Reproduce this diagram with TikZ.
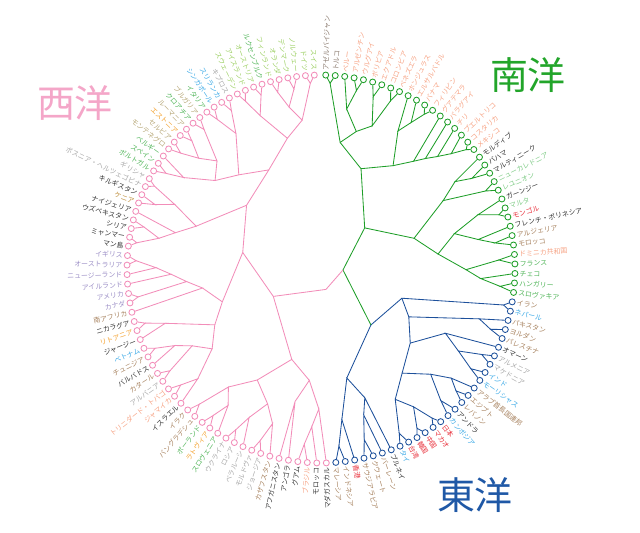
\documentclass[tikz,border=0pt]{standalone}
\usepackage{fontspec}
\newfontfamily\cjk{Noto Sans CJK JP}
\usepackage{tikz}
\usetikzlibrary{calc}
\definecolor{BrPink}{HTML}{F28DB9}
\definecolor{BrGreen}{HTML}{1E9E28}
\definecolor{BrBlue}{HTML}{1D509B}
\definecolor{TtPink}{HTML}{F4A6C8}
\definecolor{TtGreen}{HTML}{22A52A}
\definecolor{TtBlue}{HTML}{1F58A6}
\definecolor{cBlk}{HTML}{333333}
\definecolor{cGry}{HTML}{A8A8A8}
\definecolor{cBrn}{HTML}{A7825F}
\definecolor{cDbr}{HTML}{8A7A6E}
\definecolor{cSal}{HTML}{F6A283}
\definecolor{cRed}{HTML}{E8313C}
\definecolor{cLbl}{HTML}{3BA9E6}
\definecolor{cPur}{HTML}{9C8FC6}
\definecolor{cOrg}{HTML}{F3A12E}
\definecolor{cTan}{HTML}{B6A676}
\definecolor{cGrn}{HTML}{52B55A}
\definecolor{cLgr}{HTML}{9CCF63}
\definecolor{cMnt}{HTML}{7FCB86}
\definecolor{cOch}{HTML}{BE8E3C}
% join two children (#2,#3) into node #1 at radius #4
\newcommand\hjoin[5]{%
  \edef\hpa{\csname hp@#2\endcsname}\edef\hpb{\csname hp@#3\endcsname}%
  \pgfmathsetmacro\hpos{(\hpa+\hpb)/2}%
  \expandafter\xdef\csname hp@#1\endcsname{\hpos}%
  \coordinate (#1) at ({leafang(\hpos)}:#4);
  \draw[#5] (#2) -- (#1) -- (#3);}

\begin{document}
\begin{tikzpicture}[x=0.025cm, y=0.025cm,
  declare function={leafang(\x)=(\x<98.5) ? 88.6-2.81*\x : -186.8-2.62*(\x-98);}]
\tikzset{leaf/.style={circle, fill=white, inner sep=0pt, minimum size=0.15cm, line width=0.6pt},
  gleaf/.style={leaf, draw=BrGreen}, bleaf/.style={leaf, draw=BrBlue}, pleaf/.style={leaf, draw=BrPink},
  gln/.style={draw=BrGreen, line width=0.6pt}, bln/.style={draw=BrBlue, line width=0.6pt}, pln/.style={draw=BrPink, line width=0.6pt},
  lab/.style={font=\cjk\fontsize{4.9}{6}\selectfont, inner sep=0pt},
  title/.style={font=\cjk\fontsize{27}{30}\selectfont, inner sep=0pt}}
\useasboundingbox (-321,-264) rectangle (319,269);
% titles
\node[title, text=TtPink] (tw) at (-246,166) {西洋};
\node[title, text=TtGreen] (ts) at (207,194) {南洋};
\node[title, text=TtBlue] (te) at (154,-226) {東洋};
% leaves
\foreach \cname/\ccol [count=\i from 0] in {アゼルバイジャン/cDbr, トルコ/cDbr, ペルー/cSal, アルゼンチン/cSal, ウルグアイ/cSal, ボリビア/cSal, エクアドル/cSal, コロンビア/cSal, ベネズエラ/cSal, ホンジュラス/cSal, エルサルバドル/cSal, パナマ/cSal, フィリピン/cSal, グアテマラ/cSal, パラグアイ/cSal, チリ/cSal, プエルトリコ/cSal, コスタリカ/cSal, メキシコ/cSal, モルディブ/cBlk, バハマ/cBlk, マルティニーク/cBlk, ニューカレドニア/cMnt, レユニオン/cMnt, ガーンジー/cBlk, マルタ/cMnt, モンゴル/cRed, フレンチ・ポリネシア/cBlk, アルジェリア/cBrn, モロッコ/cBrn, ドミニカ共和国/cSal, フランス/cGrn, チェコ/cGrn, ハンガリー/cGrn, スロヴァキア/cGrn}
{
  \pgfmathsetmacro\a{leafang(\i)}
  \node[gleaf] (l\i) at (\a:194) {};
  \node[lab, text=\ccol, rotate=\a, anchor=west] (t\i) at (\a:198.5) {\cname};
  \expandafter\xdef\csname hp@l\i\endcsname{\i}
}
\foreach \cname/\ccol [count=\i from 35] in {イラン/cBrn, ネパール/cLbl, パキスタン/cBrn, ヨルダン/cBrn, パレスチナ/cBrn, オマーン/cBlk, アルメニア/cGry, マケドニア/cGry, インド/cLbl, モーリシャス/cLbl, アラブ首長国連邦/cBrn, エジプト/cBrn, レバノン/cBrn, アンドラ/cBlk, カンボジア/cLbl, 日本/cRed, マカオ/cRed, 中国/cRed, 韓国/cRed, 台湾/cRed, タイ/cLbl, ブルネイ/cBlk, バーレーン/cBrn, クウェート/cBrn, サウジアラビア/cBrn, 香港/cRed, インドネシア/cBrn, マレーシア/cBrn}
{
  \pgfmathsetmacro\a{leafang(\i)}
  \node[bleaf] (l\i) at (\a:194) {};
  \node[lab, text=\ccol, rotate=\a, anchor=west] (t\i) at (\a:198.5) {\cname};
  \expandafter\xdef\csname hp@l\i\endcsname{\i}
}
\foreach \cname/\ccol [count=\i from 63] in {マダガスカル/cBlk, モロッコ/cBlk, ブラジル/cSal, グアム/cBlk, アンゴラ/cBlk, アフガニスタン/cBlk, カザフスタン/cBrn, ジョージア/cGry, モルドヴァ/cGry, ベラルーシ/cGry, ロシア/cGry, ウクライナ/cGry, スロヴェニア/cGrn, ラトヴィア/cOrg, ポーランド/cGrn, バングラデシュ/cBrn, イラク/cBrn, イスラエル/cBlk, ジャマイカ/cSal, トリニダード・トバゴ/cSal, アルバニア/cGry, カタール/cBrn, バルバドス/cBlk, チュニジア/cBrn, ベトナム/cLbl, ジャージー/cBlk, リトアニア/cOrg, ニカラグア/cBlk, 南アフリカ/cBrn, カナダ/cPur, アメリカ/cPur, アイルランド/cPur, ニュージーランド/cPur, オーストラリア/cPur, イギリス/cPur, マン島/cBlk, ミャンマー/cBlk, シリア/cBlk, ウズベキスタン/cBlk, ナイジェリア/cBlk, ケニア/cOch, キルギスタン/cBlk, ボスニア・ヘルツェゴビナ/cGry, ギリシャ/cGry, ポルトガル/cGrn, スペイン/cGrn, ベルギー/cGrn, モンテネグロ/cTan, セルビア/cTan, エストニア/cOrg, ルーマニア/cTan, クロアチア/cGrn, ブルガリア/cTan, イタリア/cGrn, シンガポール/cLbl, スリランカ/cLbl, キプロス/cGry, スウェーデン/cLgr, アイスランド/cLgr, オーストリア/cLgr, ルクセンブルク/cGrn, フィンランド/cLgr, オランダ/cLgr, デンマーク/cLgr, ノルウェー/cLgr, ドイツ/cLgr, スイス/cLgr}
{
  \pgfmathsetmacro\a{leafang(\i)}
  \node[pleaf] (l\i) at (\a:194) {};
  \node[lab, text=\ccol, rotate=\a+180, anchor=east] (t\i) at (\a:198.5) {\cname};
  \expandafter\xdef\csname hp@l\i\endcsname{\i}
}
% green tree
\hjoin{g1}{l0}{l1}{186}{gln}
\hjoin{g2}{l3}{l4}{182}{gln}
\hjoin{g3}{l2}{g2}{162}{gln}
\hjoin{g4}{l5}{l6}{180}{gln}
\hjoin{g5}{l7}{l8}{182}{gln}
\hjoin{g6}{g4}{g5}{152}{gln}
\hjoin{g7}{g3}{g6}{142}{gln}
\hjoin{g8}{g1}{g7}{128}{gln}
\hjoin{g9}{l11}{l12}{186}{gln}
\hjoin{g10}{l10}{g9}{172}{gln}
\hjoin{g11}{l9}{g10}{158}{gln}
\hjoin{g12}{l17}{l18}{188}{gln}
\hjoin{g13}{l16}{g12}{174}{gln}
\hjoin{g14}{l15}{g13}{162}{gln}
\hjoin{g15}{l14}{g14}{152}{gln}
\hjoin{g16}{l13}{g15}{142}{gln}
\hjoin{g17}{g11}{g16}{126}{gln}
\hjoin{g18}{g8}{g17}{108}{gln}
\hjoin{g19}{l20}{l21}{176}{gln}
\hjoin{g20}{l19}{g19}{160}{gln}
\hjoin{g21}{l22}{l23}{182}{gln}
\hjoin{g22}{g20}{g21}{140}{gln}
\hjoin{g23}{l25}{l26}{186}{gln}
\hjoin{g24}{l24}{g23}{166}{gln}
\hjoin{g25}{l28}{l29}{176}{gln}
\hjoin{g26}{l27}{g25}{160}{gln}
\hjoin{g27}{g24}{g26}{138}{gln}
\hjoin{g28}{l30}{l31}{178}{gln}
\hjoin{g29}{l33}{l34}{180}{gln}
\hjoin{g30}{l32}{g29}{160}{gln}
\hjoin{g31}{g28}{g30}{145}{gln}
\hjoin{g32}{g27}{g31}{118}{gln}
\hjoin{g33}{g22}{g32}{98}{gln}
\hjoin{g34}{g18}{g33}{60}{gln}
% blue tree
\hjoin{b1}{l35}{l36}{186}{bln}
\hjoin{b2}{l38}{l39}{180}{bln}
\hjoin{b3}{l37}{b2}{166}{bln}
\hjoin{b4}{l41}{l42}{182}{bln}
\hjoin{b5}{l43}{l44}{180}{bln}
\hjoin{b6}{b4}{b5}{160}{bln}
\hjoin{b7}{l40}{b6}{140}{bln}
\hjoin{b8}{l46}{l47}{182}{bln}
\hjoin{b9}{l45}{b8}{170}{bln}
\hjoin{b10}{l48}{l49}{178}{bln}
\hjoin{b11}{b9}{b10}{152}{bln}
\hjoin{b12}{l50}{l51}{186}{bln}
\hjoin{b13}{l52}{l53}{186}{bln}
\hjoin{b14}{b12}{b13}{166}{bln}
\hjoin{b15}{l54}{l55}{182}{bln}
\hjoin{b16}{b14}{b15}{150}{bln}
\hjoin{b17}{b11}{b16}{132}{bln}
\hjoin{b18}{b7}{b17}{116}{bln}
\hjoin{b19}{b3}{b18}{100}{bln}
\hjoin{b20}{b1}{b19}{86}{bln}
\hjoin{b21}{l58}{l59}{176}{bln}
\hjoin{b22}{l57}{b21}{152}{bln}
\hjoin{b23}{l56}{b22}{136}{bln}
\hjoin{b24}{l61}{l62}{178}{bln}
\hjoin{b25}{l60}{b24}{152}{bln}
\hjoin{b26}{b23}{b25}{112}{bln}
\hjoin{b27}{b20}{b26}{75}{bln}
% pink tree
\hjoin{p1}{l65}{l66}{176}{pln}
\hjoin{p2}{l64}{p1}{158}{pln}
\hjoin{p3}{l63}{p2}{140}{pln}
\hjoin{p4}{l67}{l68}{135}{pln}
\hjoin{p5}{p3}{p4}{112}{pln}
\hjoin{p6}{l70}{l71}{182}{pln}
\hjoin{p7}{l69}{p6}{162}{pln}
\hjoin{p8}{l73}{l74}{182}{pln}
\hjoin{p9}{l72}{p8}{165}{pln}
\hjoin{p10}{p7}{p9}{145}{pln}
\hjoin{p11}{l76}{l77}{182}{pln}
\hjoin{p12}{l75}{p11}{165}{pln}
\hjoin{p13}{l78}{l79}{182}{pln}
\hjoin{p14}{p12}{p13}{150}{pln}
\hjoin{p15}{p10}{p14}{128}{pln}
\hjoin{p16}{p5}{p15}{95}{pln}
\hjoin{p17}{l81}{l82}{182}{pln}
\hjoin{p18}{l80}{p17}{165}{pln}
\hjoin{p19}{l83}{l84}{182}{pln}
\hjoin{p20}{l86}{l87}{184}{pln}
\hjoin{p21}{l85}{p20}{165}{pln}
\hjoin{p22}{p19}{p21}{150}{pln}
\hjoin{p23}{p18}{p22}{135}{pln}
\hjoin{p24}{l89}{l90}{184}{pln}
\hjoin{p25}{l88}{p24}{165}{pln}
\hjoin{p26}{p23}{p25}{120}{pln}
\hjoin{p27}{l92}{l93}{185}{pln}
\hjoin{p28}{l96}{l97}{185}{pln}
\hjoin{p29}{l95}{p28}{165}{pln}
\hjoin{p30}{l94}{p29}{150}{pln}
\hjoin{p31}{p27}{p30}{135}{pln}
\hjoin{p32}{l91}{p31}{120}{pln}
\hjoin{p33}{p26}{p32}{104}{pln}
\hjoin{p34}{l98}{l99}{186}{pln}
\hjoin{p35}{l100}{l101}{182}{pln}
\hjoin{p36}{p34}{p35}{165}{pln}
\hjoin{p37}{l102}{p36}{150}{pln}
\hjoin{p38}{l103}{l104}{178}{pln}
\hjoin{p39}{l105}{l106}{186}{pln}
\hjoin{p40}{p38}{p39}{160}{pln}
\hjoin{p41}{p37}{p40}{132}{pln}
\hjoin{p42}{l107}{l108}{182}{pln}
\hjoin{p43}{l109}{p42}{165}{pln}
\hjoin{p44}{l110}{l111}{182}{pln}
\hjoin{p45}{l112}{l113}{182}{pln}
\hjoin{p46}{p44}{p45}{165}{pln}
\hjoin{p47}{l114}{l115}{182}{pln}
\hjoin{p48}{p46}{p47}{150}{pln}
\hjoin{p49}{p43}{p48}{138}{pln}
\hjoin{p50}{l116}{l117}{182}{pln}
\hjoin{p51}{l118}{l119}{182}{pln}
\hjoin{p52}{p50}{p51}{160}{pln}
\hjoin{p53}{p49}{p52}{125}{pln}
\hjoin{p54}{l120}{l121}{184}{pln}
\hjoin{p55}{l122}{l123}{184}{pln}
\hjoin{p56}{p54}{p55}{165}{pln}
\hjoin{p57}{l124}{l125}{182}{pln}
\hjoin{p58}{l126}{l127}{182}{pln}
\hjoin{p59}{p57}{p58}{165}{pln}
\hjoin{p60}{l128}{l129}{186}{pln}
\hjoin{p61}{p59}{p60}{150}{pln}
\hjoin{p62}{p56}{p61}{135}{pln}
\hjoin{p63}{p53}{p62}{112}{pln}
\hjoin{p64}{p41}{p63}{98}{pln}
\hjoin{p65}{p33}{p64}{80}{pln}
\hjoin{p66}{p16}{p65}{55}{pln}
% root
\hjoin{gb}{g34}{b27}{22}{gln}
\hjoin{root}{p66}{gb}{21}{pln}
\end{tikzpicture}
\end{document}
